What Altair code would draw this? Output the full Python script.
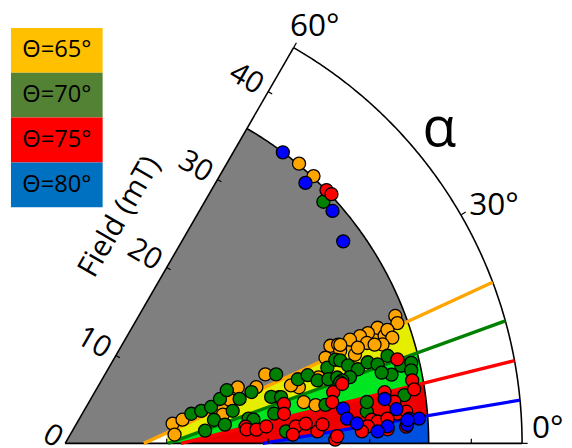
import numpy as np
import pandas as pd
import altair as alt

# ---------------- data ----------------
thetas = ["Θ=65°", "Θ=70°", "Θ=75°", "Θ=80°"]
legend_colors = ["#FFC000", "#548235", "#FF0000", "#0070C0"]
point_colors = ["#FFA500", "#008000", "#FF0000", "#0000FF"]
band_colors = ["#E6EE00", "#00E620", "#EE0000", "#0050E0"]
line_colors = ["#FFA500", "#008000", "#FF0000", "#0000FF"]

# alpha (deg), field (mT)
alpha65 = [10.4, 11.4, 4.6, 18.0, 14.8, 10.3, 19.0, 16.4, 20.2, 19.9, 18.2, 13.5, 9.8, 8.7, 14.4,
           18.6, 21.1, 19.9, 20.3, 20.0, 20.0, 20.0, 19.7, 18.6, 19.4, 17.9, 17.3, 18.4, 17.0, 18.1,
           50.1, 47.1, 12.2, 14.6, 17.7]
field65 = [10.76, 11.79, 10.81, 17.87, 16.77, 15.79, 20.85, 19.63, 27.83, 28.59, 26.99, 23.67, 23.85,
           24.95, 22.96, 28.58, 34.85, 34.80, 32.81, 31.73, 30.90, 29.85, 28.78, 33.19, 33.65, 33.86,
           32.74, 31.32, 29.85, 30.33, 35.91, 35.93, 21.56, 25.79, 31.99]

alpha70 = [13.2, 13.4, 14.0, 16.0, 18.2, 9.0, 5.2, 6.7, 11.0, 14.3, 7.7, 18.1, 15.4, 12.7, 12.1, 8.1,
           15.4, 15.7, 14.0, 16.1, 17.2, 13.7, 8.4, 13.6, 3.1, 7.2, 16.8, 15.4, 14.2, 15.0, 14.2, 15.2,
           13.0, 13.1, 11.9, 11.9, 12.6, 13.1, 12.8, 8.1, 6.0, 12.5, 43.1, 7.8]
field70 = [12.76, 13.78, 14.81, 15.86, 16.76, 14.84, 13.84, 15.84, 16.81, 17.73, 18.22, 21.86, 19.03,
           20.80, 21.75, 20.79, 23.77, 24.81, 25.62, 26.88, 27.85, 26.68, 25.91, 27.57, 21.78, 18.69,
           28.29, 28.90, 29.74, 30.85, 31.74, 32.90, 33.98, 35.00, 34.83, 32.85, 31.94, 28.80, 27.98,
           33.74, 29.87, 27.75, 34.83, 29.99]

alpha75 = [5.3, 10.2, 7.7, 4.4, 4.1, 4.2, 4.7, 10.8, 2.7, 0.8, 2.2, 4.8, 10.3, 8.8, 9.1, 7.2, 5.1, 4.4,
           4.0, 4.4, 1.5, 2.8, 5.3, 3.2, 2.5, 44.1, 43.1, 4.2, 8.8, 2.3, 12.1, 14.2]
field75 = [17.84, 21.90, 21.75, 17.92, 18.88, 22.78, 23.77, 26.88, 24.88, 26.60, 22.44, 19.87, 34.74,
           34.78, 31.86, 32.68, 32.85, 30.28, 30.85, 31.84, 26.80, 33.63, 33.74, 29.85, 31.78, 35.84,
           35.92, 25.41, 26.62, 29.25, 27.90, 33.75]

alpha80 = [7.1, 7.9, 5.9, 5.0, 3.9, 4.1, 4.0, 3.0, 2.2, 3.1, 53.2, 47.3, 41.0, 36.0, 3.9]
field80 = [27.59, 31.76, 32.80, 27.87, 28.80, 33.97, 34.94, 31.79, 30.80, 33.74, 35.79, 34.90, 34.89,
           33.85, 33.80]

series_alpha = [alpha65, alpha70, alpha75, alpha80]
series_field = [field65, field70, field75, field80]

# fitted boundary lines (Hy = slope * Hx + intercept, mT)
line_slope = [0.462, 0.363, 0.248, 0.168]
line_intercept = [-3.58, -3.68, -2.83, -3.27]
band_start = [10.0, 10.5, 12.0, 19.8]

R_outer = 45.0
R_data = 35.8
ALPHA_MAX = 60.0
radial_ticks = [0, 10, 20, 30, 40]
angle_ticks = [0, 30, 60]

# ---------------- helpers ----------------
W, H = 564, 440
XDOM = [-5.63, 49.13]
YDOM = [-0.15, 42.57]
FONT = "Open Sans"


def X(f="x"):
    return alt.X(f"{f}:Q", scale=alt.Scale(domain=XDOM, nice=False, zero=False), axis=None)


def Y(f="y"):
    return alt.Y(f"{f}:Q", scale=alt.Scale(domain=YDOM, nice=False, zero=False), axis=None)


def pol(a_deg, r):
    a = np.radians(np.asarray(a_deg, dtype=float))
    r = np.asarray(r, dtype=float)
    return r * np.cos(a), r * np.sin(a)


def circle_y(x, R):
    return np.sqrt(np.clip(R * R - x * x, 0, None))


layers = []

# gray sector
xs = np.unique(np.concatenate([np.linspace(0, R_data, 400), [R_data * 0.5]]))
up = np.minimum(np.tan(np.radians(ALPHA_MAX)) * xs, circle_y(xs, R_data))
gray = pd.DataFrame({"x": xs, "y": up, "y0": 0.0})
layers.append(alt.Chart(gray).mark_area(color="#7F7F7F", orient="vertical").encode(
    x=X(), y=Y(), y2=alt.Y2("y0")))


def band_df(i, start):
    xs = np.linspace(start, R_data, 400)
    up = np.minimum(line_slope[i] * xs + line_intercept[i], circle_y(xs, R_data))
    up = np.clip(up, 0, None)
    return pd.DataFrame({"x": xs, "y": up, "y0": 0.0})


# white wedge under the first line
x0_orange = -line_intercept[0] / line_slope[0]
layers.append(alt.Chart(band_df(0, x0_orange)).mark_area(color="white", orient="vertical").encode(
    x=X(), y=Y(), y2=alt.Y2("y0")))
for i in range(4):
    layers.append(alt.Chart(band_df(i, band_start[i])).mark_area(
        color=band_colors[i], orient="vertical").encode(x=X(), y=Y(), y2=alt.Y2("y0")))

# axes frame: arcs and radial edges
frames = []
ang = np.linspace(0, ALPHA_MAX, 200)
for seg, R in [("outer", R_outer), ("data", R_data)]:
    fx, fy = pol(ang, R)
    frames.append(pd.DataFrame({"x": fx, "y": fy, "seg": seg, "ord": np.arange(len(ang))}))
for seg, a in [("r60", ALPHA_MAX), ("r0", 0.0)]:
    fx, fy = pol([a, a], [0, R_outer])
    frames.append(pd.DataFrame({"x": fx, "y": fy, "seg": seg, "ord": [0, 1]}))
frame = pd.concat(frames)
layers.append(alt.Chart(frame).mark_line(color="black", strokeWidth=1.6).encode(
    x=X(), y=Y(), detail="seg:N", order="ord:Q"))

# fitted lines
for i in range(4):
    m, b = line_slope[i], line_intercept[i]
    xa = -b / m
    A = 1 + m * m
    B = 2 * m * b
    C = b * b - R_outer ** 2
    xb = (-B + np.sqrt(B * B - 4 * A * C)) / (2 * A)
    ldf = pd.DataFrame({"x": [xa], "y": [0.0], "x2": [xb], "y2": [m * xb + b]})
    layers.append(alt.Chart(ldf).mark_rule(color=line_colors[i], strokeWidth=3.4).encode(
        x=X(), y=Y(), x2=alt.X2("x2"), y2=alt.Y2("y2")))

# ticks
tl = 0.45
rt = np.array(radial_ticks[1:], dtype=float)
c60, s60 = np.cos(np.radians(ALPHA_MAX)), np.sin(np.radians(ALPHA_MAX))
tick_rows = []
for r in rt:
    tick_rows.append((r * c60, r * s60, r * c60 + tl * s60, r * s60 - tl * c60))
    tick_rows.append((r, 0.0, r, tl))
for a in angle_ticks:
    ca, sa = np.cos(np.radians(a)), np.sin(np.radians(a))
    tick_rows.append((R_outer * ca, R_outer * sa, (R_outer + 0.55) * ca, (R_outer + 0.55) * sa))
ticks = pd.DataFrame(tick_rows, columns=["x", "y", "x2", "y2"])
layers.append(alt.Chart(ticks).mark_rule(color="black", strokeWidth=1.2).encode(
    x=X(), y=Y(), x2=alt.X2("x2"), y2=alt.Y2("y2")))

# points
for i in range(4):
    px, py = pol(series_alpha[i], series_field[i])
    pdf = pd.DataFrame({"x": px, "y": py, "alpha": series_alpha[i], "field": series_field[i]})
    layers.append(alt.Chart(pdf).mark_point(
        shape="circle", filled=True, size=175, fill=point_colors[i], stroke="black",
        strokeWidth=1.3, opacity=1).encode(x=X(), y=Y()))

# radial tick labels (the single-digit "0" sits a little closer to the axis)
rl = np.array(radial_ticks, dtype=float)
off = np.where(rl > 0, 2.5, 1.4)
rlab = pd.DataFrame({"x": rl * c60 - off * s60, "y": rl * s60 + off * c60,
                     "t": [str(v) for v in radial_ticks]})
layers.append(alt.Chart(rlab).mark_text(fontSize=30, font=FONT, angle=30, align="center",
                                        baseline="middle").encode(x=X(), y=Y(), text="t:N"))

# angle labels
r_lab = 48.2
lab_hi = [a for a in angle_ticks if a > 0]
ax_, ay_ = pol(lab_hi, [r_lab] * len(lab_hi))
alab = pd.DataFrame({"x": ax_, "y": ay_, "t": [f"{a}°" for a in lab_hi]})
layers.append(alt.Chart(alab).mark_text(fontSize=32, font=FONT, align="center", baseline="middle",
                                        dx=5, dy=7).encode(x=X(), y=Y(), text="t:N"))
a0x, a0y = pol([0], [r_lab])
alab0 = pd.DataFrame({"x": a0x, "y": a0y, "t": ["0°"]})
layers.append(alt.Chart(alab0).mark_text(fontSize=32, font=FONT, align="center", baseline="bottom",
                                         dx=-7, dy=2).encode(x=X(), y=Y(), text="t:N"))

# alpha label
alx, aly = pol([40], [48.1])
layers.append(alt.Chart(pd.DataFrame({"x": alx, "y": aly, "t": ["α"]})).mark_text(
    fontSize=56, font=FONT, align="center", baseline="middle").encode(x=X(), y=Y(), text="t:N"))

# radial axis title
ft_r, ft_off = 22.0, 6.5
fld = pd.DataFrame({"x": [ft_r * c60 - ft_off * s60], "y": [ft_r * s60 + ft_off * c60],
                    "t": ["Field (mT)"]})
layers.append(alt.Chart(fld).mark_text(fontSize=30, font=FONT, angle=300, align="center",
                                       baseline="middle").encode(x=X(), y=Y(), text="t:N"))

main = alt.layer(*layers)

# legend boxes
leg = pd.DataFrame({"label": thetas})
ly = alt.Y("label:N", scale=alt.Scale(domain=thetas, range=[17, 199], paddingInner=0,
                                      paddingOuter=0), axis=None)
lc = alt.Color("label:N", scale=alt.Scale(domain=thetas, range=legend_colors), legend=None)
legend_rect = alt.Chart(leg).mark_rect(opacity=1).encode(
    y=ly, x=alt.value(3), x2=alt.value(96), color=lc)
legend_text = alt.Chart(leg).mark_text(fontSize=24, font=FONT, color="black").encode(
    y=ly, x=alt.value(49.5), text="label:N")
legend = alt.layer(legend_rect, legend_text)

chart = alt.layer(main, legend).resolve_scale(
    x="independent", y="independent", color="independent"
).properties(
    width=W, height=H, padding=0, autosize=alt.AutoSizeParams(type="none")
).configure_view(stroke=None)

chart.save("out.html", embed_options={"renderer": "svg", "actions": False})
